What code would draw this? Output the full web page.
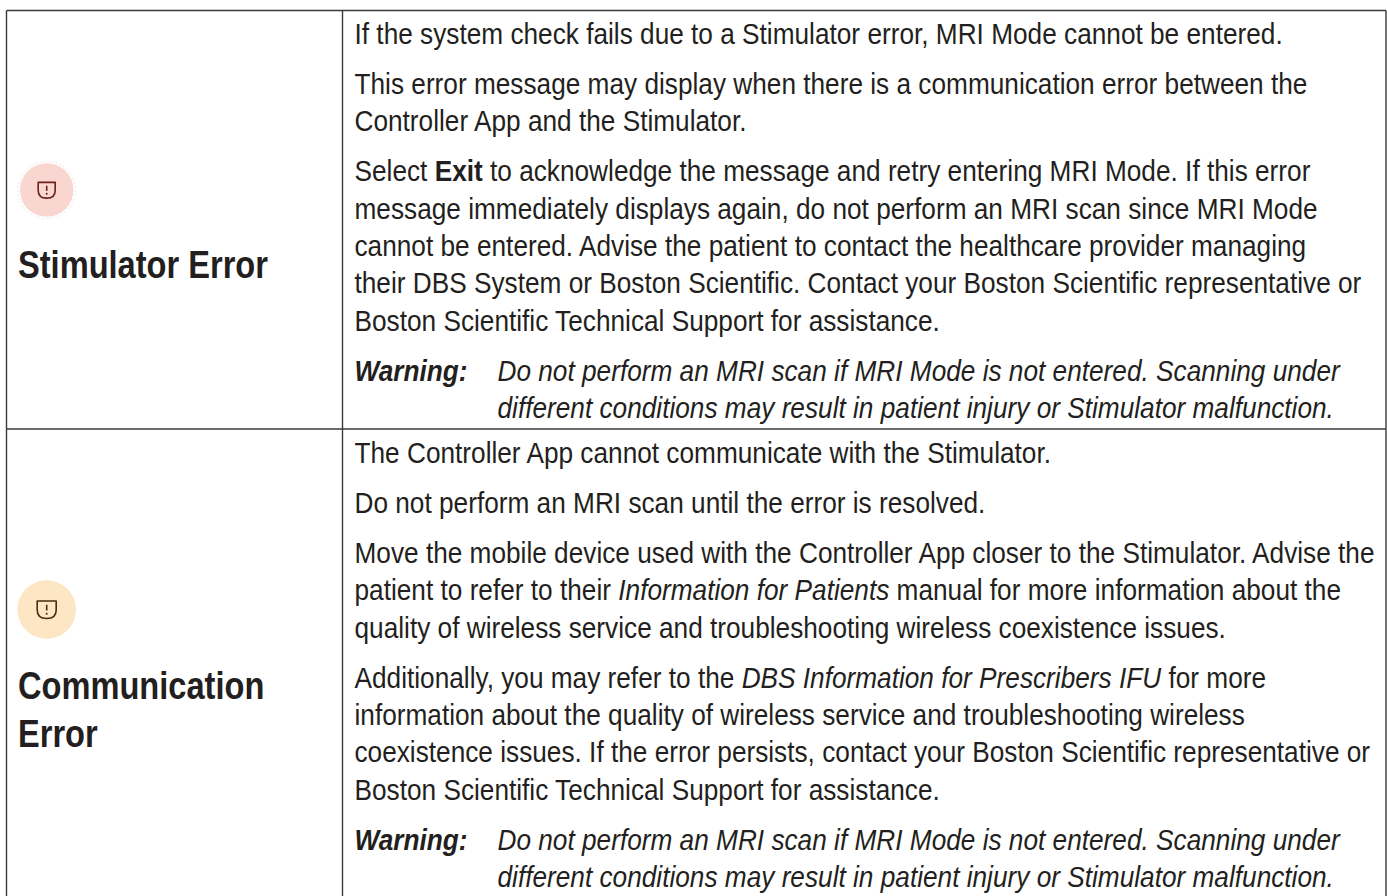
<!DOCTYPE html>
<html>
<head>
<meta charset="utf-8">
<script src="https://cdn.jsdelivr.net/npm/d3@7"></script>
<style>
  html, body { margin: 0; padding: 0; background: #fff; }
  svg { display: block; }
</style>
</head>
<body>
<div id="chart-container"></div>
<script>
const d3 = window.d3;

const chartWidth = 1387;
const chartHeight = 896;

// Table content, one list per row. *x* is italic, **x** is bold
const rowLabels = [['Stimulator Error'], ['Communication', 'Error']];
const row1Paragraphs = [
  ['If the system check fails due to a Stimulator error, MRI Mode cannot be entered.'],
  ['This error message may display when there is a communication error between the',
   'Controller App and the Stimulator.'],
  ['Select **Exit** to acknowledge the message and retry entering MRI Mode. If this error',
   'message immediately displays again, do not perform an MRI scan since MRI Mode',
   'cannot be entered. Advise the patient to contact the healthcare provider managing',
   'their DBS System or Boston Scientific. Contact your Boston Scientific representative or',
   'Boston Scientific Technical Support for assistance.']
];
const row2Paragraphs = [
  ['The Controller App cannot communicate with the Stimulator.'],
  ['Do not perform an MRI scan until the error is resolved.'],
  ['Move the mobile device used with the Controller App closer to the Stimulator. Advise the',
   'patient to refer to their *Information for Patients* manual for more information about the',
   'quality of wireless service and troubleshooting wireless coexistence issues.'],
  ['Additionally, you may refer to the *DBS Information for Prescribers IFU* for more',
   'information about the quality of wireless service and troubleshooting wireless',
   'coexistence issues. If the error persists, contact your Boston Scientific representative or',
   'Boston Scientific Technical Support for assistance.']
];
const warningLabel = 'Warning:';
const warningLines = [
  'Do not perform an MRI scan if MRI Mode is not entered. Scanning under',
  'different conditions may result in patient injury or Stimulator malfunction.'
];

// Layout
const leftX = 6.5;
const midX = 342.5;
const rightX = 1386;
const topY = 10.5;
const rowY = 429;
const textX = 354.5;
const warnX = 497.5;
const labelX = 18;
const lineStep = 37.3;
const paraStep = 50;
const bodySize = 26.22;
const labelSize = 32.6;
const bodyStretch = 1.15; // the source page is a bit taller than wide
const labelStretch = 1.19;
const inkColor = '#231f20';
const ruleColor = '#3a3a3a';

const svg = d3
  .select('#chart-container')
  .append('svg')
  .attr('width', chartWidth)
  .attr('height', chartHeight)
  .style('font-family', '"Liberation Sans", Arial, sans-serif');

// Grid lines
const rules = [
  [leftX, topY, rightX, topY],
  [leftX, rowY, rightX, rowY],
  [leftX, topY, leftX, chartHeight],
  [midX, topY, midX, chartHeight],
  [rightX, topY, rightX, chartHeight]
];
svg
  .selectAll('line.rule')
  .data(rules)
  .enter()
  .append('line')
  .attr('class', 'rule')
  .attr('x1', (d) => d[0])
  .attr('y1', (d) => d[1])
  .attr('x2', (d) => d[2])
  .attr('y2', (d) => d[3])
  .attr('stroke', ruleColor)
  .attr('stroke-width', 1.4);

const addText = (x, y, size, stretch) =>
  svg
    .append('text')
    .attr('transform', `translate(${x},${y}) scale(1,${stretch})`)
    .attr('font-size', size)
    .attr('fill', inkColor)
    .attr('xml:space', 'preserve');

// Splits the small markup into tspans
const addRuns = (node, line) => {
  line.split(/(\*\*[^*]+\*\*|\*[^*]+\*)/).filter((s) => s).forEach((s) => {
    const bold = s.startsWith('**');
    const italic = !bold && s.startsWith('*');
    node
      .append('tspan')
      .attr('font-weight', bold ? 'bold' : null)
      .attr('font-style', italic ? 'italic' : null)
      .text(s.replace(/\*/g, ''));
  });
};

const drawBody = (paragraphs, startY) => {
  let y = startY;
  paragraphs.forEach((lines, p) => {
    if (p > 0) y += paraStep;
    lines.forEach((line, i) => {
      if (i > 0) y += lineStep;
      addRuns(addText(textX, y, bodySize, bodyStretch), line);
    });
  });
  y += paraStep;
  addText(textX, y, bodySize, bodyStretch)
    .attr('font-weight', 'bold')
    .attr('font-style', 'italic')
    .text(warningLabel);
  warningLines.forEach((line, i) => {
    addText(warnX, y + i * lineStep, bodySize, bodyStretch)
      .attr('font-style', 'italic')
      .text(line);
  });
};

drawBody(row1Paragraphs, 44);
drawBody(row2Paragraphs, 463);

// Row labels
const labelBaselines = [[278], [699, 747]];
rowLabels.forEach((lines, r) => {
  lines.forEach((line, i) => {
    addText(labelX, labelBaselines[r][i], labelSize, labelStretch)
      .attr('font-weight', 'bold')
      .text(line);
  });
});

// Icons
const drawIcon = (cx, cy, radius, fill, ink, s, ring) => {
  const g = svg.append('g').attr('transform', `translate(${cx},${cy})`);
  if (ring) {
    g.append('circle')
      .attr('r', radius + 2)
      .attr('fill', 'none')
      .attr('stroke', '#dddddd')
      .attr('stroke-width', 0.7)
      .attr('stroke-dasharray', '2 2');
  }
  g.append('circle').attr('r', radius).attr('fill', fill);

  const shield = d3.path();
  shield.moveTo(-s, -s * 0.9);
  shield.lineTo(s, -s * 0.9);
  shield.lineTo(s, s * 0.05);
  shield.quadraticCurveTo(s, s * 0.95, 0, s * 0.95);
  shield.quadraticCurveTo(-s, s * 0.95, -s, s * 0.05);
  shield.closePath();
  g.append('path')
    .attr('d', shield.toString())
    .attr('fill', 'none')
    .attr('stroke', ink)
    .attr('stroke-width', 1.6)
    .attr('stroke-linejoin', 'round');
  g.append('line')
    .attr('y1', -s * 0.5)
    .attr('y2', s * 0.1)
    .attr('stroke', ink)
    .attr('stroke-width', 1.6);
  g.append('circle').attr('cy', s * 0.45).attr('r', 1).attr('fill', ink);
};

drawIcon(46.7, 190, 26.7, '#f9d6d0', '#6b2018', 8.5, true);
drawIcon(46.7, 609.5, 29.3, '#fde6c3', '#4a2c0a', 9.5, false);
</script>
</body>
</html>
